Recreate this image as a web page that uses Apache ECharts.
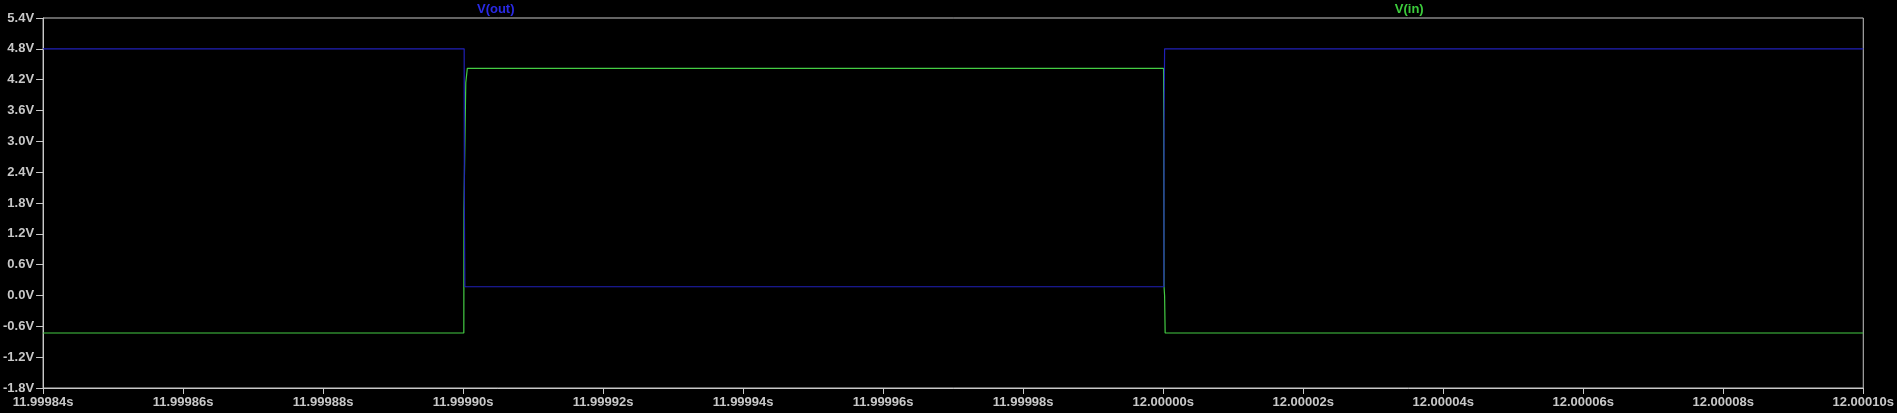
<!DOCTYPE html>
<html>
<head>
<meta charset="utf-8">
<script src="https://cdn.jsdelivr.net/npm/echarts@6/dist/echarts.min.js"></script>
<style>
html,body{margin:0;padding:0;background:#000;}
#chart{width:1897px;height:413px;}
</style>
</head>
<body>
<div id="chart"></div>
<script>
// time in microseconds relative to 12 s
const outTimes = [-160, -99.85, -99.82, -99.75, 0.10, 0.12, 0.20, 100];
const outVolts = [4.80, 4.80, 1.67, 0.17, 0.17, 3.26, 4.80, 4.80];
const inTimes  = [-160, -99.90, -99.88, -99.72, -99.62, -99.40, 0.05, 0.08, 0.12, 0.20, 0.28, 100];
const inVolts  = [-0.73, -0.73, 1.67, 3.26, 4.14, 4.42, 4.42, 3.26, 0.17, 0.00, -0.73, -0.73];
const seriesNames = ['V(out)', 'V(in)'];
const xMin = -160, xMax = 100, xStep = 20;
const yMin = -1.8, yMax = 5.4, yStep = 0.6;

const zip = (a, b) => a.map((t, i) => [t, b[i]]);
const labelStyle = {color:'#c8c8c8', fontFamily:'Liberation Sans, Arial, sans-serif', fontWeight:'bold', fontSize:13};

const chart = echarts.init(document.getElementById('chart'), null, {renderer:'canvas'});
const gl = 39, gr = 31, gt = 18, gb = 25;
const plotW = 1897 - gl - gr;
chart.setOption({
  backgroundColor:'#000',
  animation:false,
  grid:{left:gl, right:gr, top:gt, bottom:gb, show:true, borderColor:'#c8c8c8', borderWidth:1, backgroundColor:'transparent'},
  xAxis:{
    type:'value', min:xMin, max:xMax, interval:xStep,
    axisLine:{show:true, onZero:false, lineStyle:{color:'#c8c8c8', width:1}},
    axisTick:{show:true, inside:false, length:6, lineStyle:{color:'#c8c8c8'}},
    splitLine:{show:false},
    axisLabel:Object.assign({margin:8, formatter:v => (12 + v/1e6).toFixed(5) + 's'}, labelStyle)
  },
  yAxis:{
    type:'value', min:yMin, max:yMax, interval:yStep,
    axisLine:{show:true, onZero:false, lineStyle:{color:'#c8c8c8', width:1}},
    axisTick:{show:true, inside:false, length:7, lineStyle:{color:'#c8c8c8'}},
    splitLine:{show:false},
    axisLabel:Object.assign({margin:9, formatter:v => v.toFixed(1) + 'V'}, labelStyle)
  },
  graphic:[
    {type:'text', x:gl + plotW*0.25, y:9, style:{text:seriesNames[0], fill:'#2a2ae6', font:'bold 13px "Liberation Sans", Arial, sans-serif', textAlign:'center', textVerticalAlign:'middle'}},
    {type:'text', x:gl + plotW*0.75, y:9, style:{text:seriesNames[1], fill:'#3ccc3c', font:'bold 13px "Liberation Sans", Arial, sans-serif', textAlign:'center', textVerticalAlign:'middle'}}
  ],
  series:[
    {name:seriesNames[1], type:'line', data:zip(inTimes, inVolts), showSymbol:false, lineStyle:{color:'#44cc44', width:1.2}, z:2},
    {name:seriesNames[0], type:'line', data:zip(outTimes, outVolts), showSymbol:false, lineStyle:{color:'#2020b8', width:1.2}, z:3}
  ]
});
</script>
</body>
</html>
